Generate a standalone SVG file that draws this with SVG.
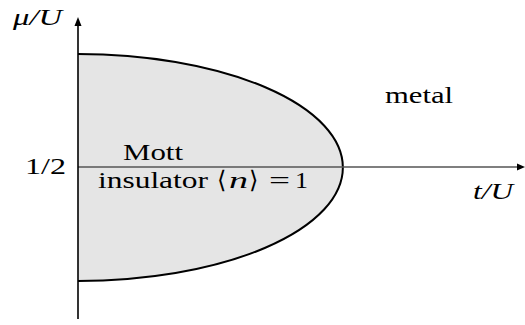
<svg xmlns="http://www.w3.org/2000/svg" width="525" height="325" viewBox="0 0 525 325">
  <rect width="525" height="325" fill="#fff"/>
  <g id="mott-region">
    <path d="M78,54 A265,113.5 0 0 1 78,281 Z" fill="#e5e5e5" stroke="none"/>
    <path d="M78,54 A265,113.5 0 0 1 78,281" fill="none" stroke="#000" stroke-width="2"/>
  </g>
  <g id="axes">
    <line x1="78" y1="167" x2="518" y2="167" stroke="#555" stroke-width="1.6"/>
    <polygon points="525,167 517,163.5 517,170.5" fill="#000"/>
    <line x1="78" y1="319" x2="78" y2="26" stroke="#000" stroke-width="1.6"/>
    <polygon points="78,17 74.5,26 81.5,26" fill="#000"/>
  </g>
  <g id="labels" font-family="'Liberation Serif', 'Times New Roman', serif" font-size="24" fill="#000">
    <text x="13" y="25" font-style="italic" textLength="49" lengthAdjust="spacingAndGlyphs">μ/U</text>
    <text x="25" y="174" textLength="41" lengthAdjust="spacingAndGlyphs">1/2</text>
    <text x="473" y="199" font-style="italic" textLength="40" lengthAdjust="spacingAndGlyphs">t/U</text>
    <text x="385" y="103" textLength="68" lengthAdjust="spacingAndGlyphs">metal</text>
    <text x="123" y="160" textLength="60" lengthAdjust="spacingAndGlyphs">Mott</text>
    <text x="98" y="188" textLength="110" lengthAdjust="spacingAndGlyphs">insulator</text>
    <text x="217" y="188">⟨</text>
    <text x="229" y="188" font-style="italic" textLength="19" lengthAdjust="spacingAndGlyphs">n</text>
    <text x="249" y="188">⟩</text>
    <text x="269" y="188" textLength="21" lengthAdjust="spacingAndGlyphs">=</text>
    <text x="295" y="188" textLength="13" lengthAdjust="spacingAndGlyphs">1</text>
  </g>
</svg>
